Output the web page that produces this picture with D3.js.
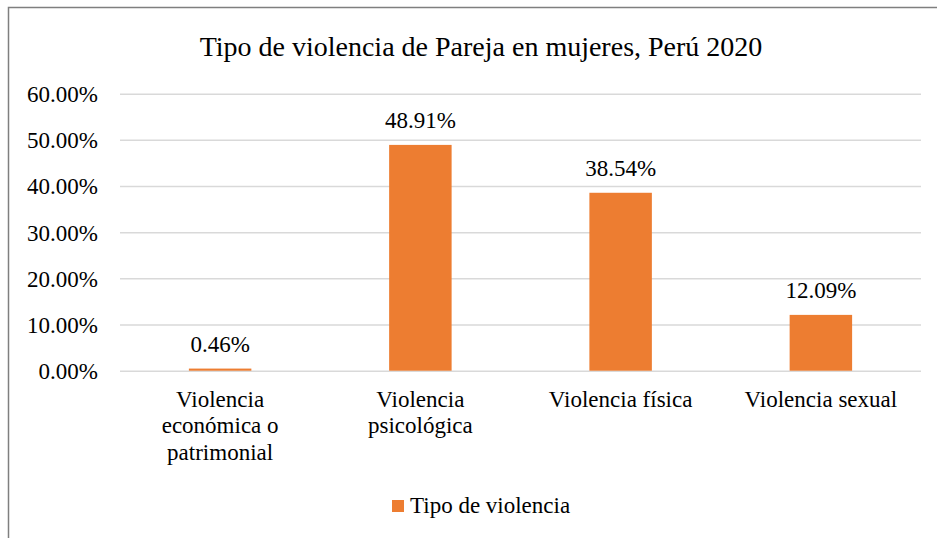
<!DOCTYPE html>
<html>
<head>
<meta charset="utf-8">
<script src="https://cdn.jsdelivr.net/npm/d3@7"></script>
<style>
  html, body { margin: 0; padding: 0; background: #fff; }
  svg { display: block; font-family: "Liberation Serif", "Times New Roman", serif; }
</style>
</head>
<body>
<div id="chart"></div>
<script>
// chart data
var categories = [
    ["Violencia", "económica o", "patrimonial"],
    ["Violencia", "psicológica"],
    ["Violencia física"],
    ["Violencia sexual"]
];
var values = [0.46, 48.91, 38.54, 12.09];
var yTicks = [0, 10, 20, 30, 40, 50, 60];
var title = "Tipo de violencia de Pareja en mujeres, Perú 2020";
var seriesName = "Tipo de violencia";

function main() {
    var W = 937, H = 538;
    var margin = { top: 93.7, left: 120, right: 16, bottom: 167.3 };
    var width = W - margin.left - margin.right;
    var height = H - margin.top - margin.bottom;

    var svg = d3.select("#chart").append("svg")
        .attr("width", W)
        .attr("height", H);

    // chart frame (only top and left edges are in view)
    svg.append("path")
        .attr("d", "M8.5," + H + "V7.5H" + W)
        .attr("fill", "none")
        .attr("stroke", "#7f7f7f")
        .attr("stroke-width", 1.5);

    svg.append("text")
        .attr("x", 481)
        .attr("y", 55.5)
        .attr("text-anchor", "middle")
        .attr("font-size", "28px")
        .attr("fill", "#000")
        .text(title);

    var g = svg.append("g")
        .attr("transform", "translate(" + margin.left + "," + margin.top + ")");

    var x = d3.scaleBand()
        .domain(d3.range(categories.length))
        .range([0, width])
        .paddingInner(0.688)
        .paddingOuter(0.344);

    var y = d3.scaleLinear()
        .domain([0, 60])
        .range([height, 0]);

    // gridlines + y labels
    var yAxis = g.append("g")
        .call(d3.axisLeft(y)
            .tickValues(yTicks)
            .tickSize(-width)
            .tickPadding(22)
            .tickFormat(function (d) { return d.toFixed(2) + "%"; }));
    yAxis.select(".domain").remove();
    yAxis.selectAll("line")
        .attr("stroke", "#d9d9d9")
        .attr("stroke-width", 1.5);
    yAxis.selectAll("text")
        .attr("font-family", "Liberation Serif")
        .attr("font-size", "23px")
        .attr("fill", "#000")
        .attr("dy", "0.34em");

    // bars
    g.selectAll("rect.bar")
        .data(values)
        .enter()
        .append("rect")
        .attr("class", "bar")
        .attr("x", function (d, i) { return x(i); })
        .attr("width", x.bandwidth())
        .attr("y", function (d) { return y(d); })
        .attr("height", function (d) { return height - y(d); })
        .attr("fill", "#ED7D31");

    // value labels
    g.selectAll("text.val")
        .data(values)
        .enter()
        .append("text")
        .attr("class", "val")
        .attr("x", function (d, i) { return x(i) + x.bandwidth() / 2; })
        .attr("y", function (d) { return y(d) - 16.5; })
        .attr("text-anchor", "middle")
        .attr("font-size", "23px")
        .attr("fill", "#000")
        .text(function (d) { return d.toFixed(2) + "%"; });

    // category labels
    var cat = g.selectAll("text.cat")
        .data(categories)
        .enter()
        .append("text")
        .attr("class", "cat")
        .attr("text-anchor", "middle")
        .attr("font-size", "23px")
        .attr("fill", "#000")
        .attr("transform", function (d, i) {
            return "translate(" + (x(i) + x.bandwidth() / 2) + "," + (height + 36) + ")";
        });
    cat.selectAll("tspan")
        .data(function (d) { return d; })
        .enter()
        .append("tspan")
        .attr("x", 0)
        .attr("y", function (d, i) { return i * 26.7; })
        .text(function (d) { return d; });

    // legend
    var legend = svg.append("g")
        .attr("transform", "translate(392,500)");
    legend.append("rect")
        .attr("width", 12)
        .attr("height", 12)
        .attr("fill", "#ED7D31");
    legend.append("text")
        .attr("x", 18)
        .attr("y", 13.3)
        .attr("font-size", "23px")
        .attr("fill", "#000")
        .text(seriesName);
}
window.addEventListener('load', main);
</script>
</body>
</html>
